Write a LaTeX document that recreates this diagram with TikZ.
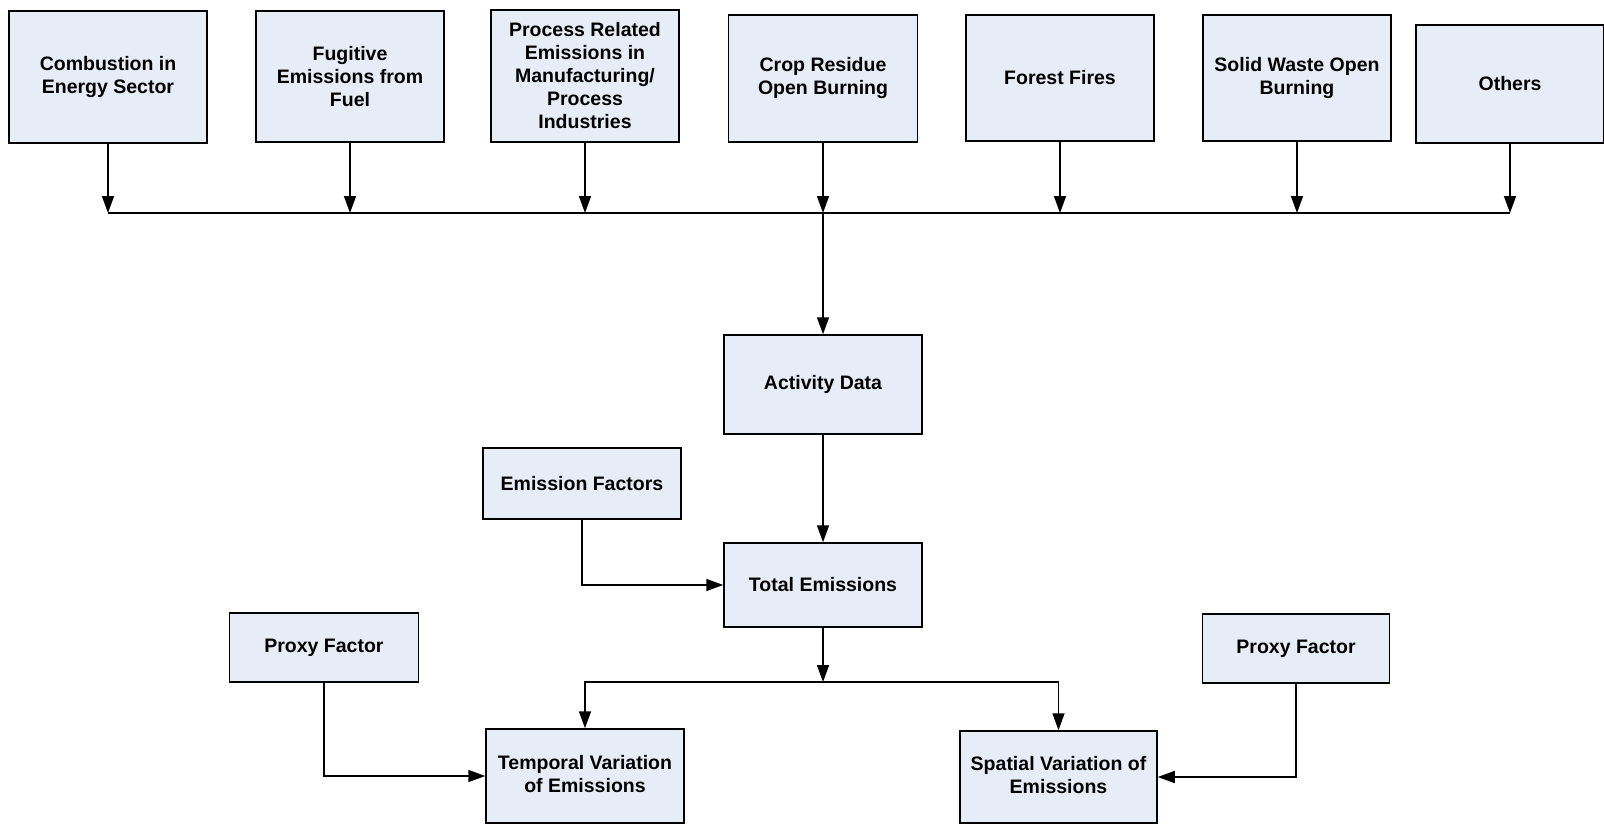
\documentclass[tikz,border=0pt]{standalone}
\usepackage{fontspec}
\setmainfont{Liberation Sans}
\usetikzlibrary{arrows.meta}
\definecolor{boxfill}{RGB}{231,237,247}
\tikzset{
  box/.style={draw=black, line width=1.5pt, fill=boxfill, rectangle, inner sep=0pt, align=center,
    font=\fontsize{19.5}{23}\selectfont\bfseries},
  conn/.style={line width=1.6pt, draw=black},
  arr/.style={conn, -{Triangle[length=17pt,width=12pt]}}
}
\begin{document}
\begin{tikzpicture}[x=1pt,y=-1pt]
\useasboundingbox (0,0) rectangle (1604,824);
% top row
\node[box, minimum width=198pt, minimum height=132pt] (b1) at (108,77) {Combustion in\\Energy Sector};
\node[box, minimum width=188pt, minimum height=131pt] (b2) at (350,76.5) {Fugitive\\Emissions from\\Fuel};
\node[box, minimum width=188pt, minimum height=132pt] (b3) at (585,76) {Process Related\\Emissions in\\Manufacturing/\\Process\\Industries};
\node[box, minimum width=189pt, minimum height=127pt] (b4) at (823,78.5) {Crop Residue\\Open Burning};
\node[box, minimum width=188pt, minimum height=126pt] (b5) at (1060,78) {Forest Fires};
\node[box, minimum width=188pt, minimum height=126pt] (b6) at (1297,78) {Solid Waste Open\\Burning};
\node[box, minimum width=188pt, minimum height=118pt] (b7) at (1510,84) {Others};
% middle
\node[box, minimum width=198pt, minimum height=99pt] (ad) at (823,384.5) {Activity Data};
\node[box, minimum width=198pt, minimum height=71pt] (ef) at (582,483.5) {Emission Factors};
\node[box, minimum width=198pt, minimum height=84pt] (te) at (823,585) {Total Emissions};
% bottom
\node[box, minimum width=189pt, minimum height=69pt] (pf1) at (324,647.5) {Proxy Factor};
\node[box, minimum width=187pt, minimum height=69pt] (pf2) at (1296,648.5) {Proxy Factor};
\node[box, minimum width=198pt, minimum height=94pt] (tv) at (585,776) {\raisebox{8pt}{\begin{tabular}{@{}c@{}}Temporal Variation\\of Emissions\end{tabular}}};
\node[box, minimum width=197pt, minimum height=92pt] (sv) at (1058.5,777) {\raisebox{8pt}{\begin{tabular}{@{}c@{}}Spatial Variation of\\Emissions\end{tabular}}};
% junction coordinates
\coordinate (hl) at (0,213);
\coordinate (j1) at (b1.south |- hl);
\coordinate (j2) at (b2.south |- hl);
\coordinate (j3) at (b3.south |- hl);
\coordinate (j4) at (b4.south |- hl);
\coordinate (j5) at (b5.south |- hl);
\coordinate (j6) at (b6.south |- hl);
\coordinate (j7) at (b7.south |- hl);
\coordinate (split) at (823,682);
% connectors
\draw[arr] (b1.south) -- (j1);
\draw[arr] (b2.south) -- (j2);
\draw[arr] (b3.south) -- (j3);
\draw[arr] (b4.south) -- (j4);
\draw[arr] (b5.south) -- (j5);
\draw[arr] (b6.south) -- (j6);
\draw[arr] (b7.south) -- (j7);
\draw[conn] (j1) -- (j7);
\draw[arr] (j4) -- (ad.north);
\draw[arr] (ad.south) -- (te.north);
\draw[arr] (ef.south) |- (te.west);
\draw[arr] (te.south) -- (split);
\draw[arr] (split) -| (tv.north);
\draw[arr] (split) -| (sv.north);
\draw[arr] (pf1.south) |- (tv.west);
\draw[arr] (pf2.south) |- (sv.east);
\end{tikzpicture}
\end{document}
